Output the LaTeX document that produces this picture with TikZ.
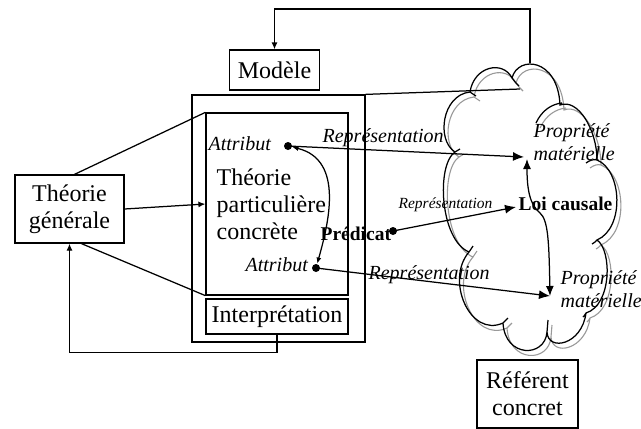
\documentclass[tikz,border=0pt]{standalone}
\usepackage{fontspec}
\setmainfont{Liberation Serif}
\usetikzlibrary{arrows.meta}
\begin{document}
\begin{tikzpicture}[x=1pt,y=-1pt, line width=1.25pt,
  box/.style={draw, rectangle, inner sep=0pt},
  bigtxt/.style={font=\fontsize{24}{27}\selectfont},
  ital/.style={font=\fontsize{20}{23}\selectfont\itshape, inner sep=0pt},
  smallital/.style={font=\fontsize{15.5}{18}\selectfont\itshape, inner sep=0pt},
  boldtxt/.style={font=\fontsize{19.5}{22}\selectfont\bfseries, inner sep=0pt},
  dot/.style={circle, fill, inner sep=0pt, minimum size=8pt},
  bigarrow/.style={-{Latex[length=11pt,width=9pt]}},
  smallarrow/.style={-{Latex[length=7pt,width=6pt]}},
  cloudpath/.style={insert path={
    (470,92) .. controls (474,66) and (503,60) .. (512,78)
    .. controls (518,55) and (558,58) .. (560,105)
    .. controls (578,98) and (597,130) .. (597,160)
    .. controls (622,170) and (625,228) .. (597,240)
    .. controls (612,250) and (612,305) .. (586,313)
    .. controls (582,345) and (548,352) .. (547,332)
    .. controls (545,358) and (505,358) .. (503,323)
    .. controls (470,338) and (445,280) .. (469,252)
    .. controls (440,240) and (436,165) .. (455,152)
    .. controls (436,140) and (442,95) .. (470,92) -- cycle
    (512,78) .. controls (514,81) and (516,83) .. (519,86)
    (536,123) .. controls (542,110) and (552,104) .. (562,103)
    (586,163) .. controls (590,160) and (594,159) .. (597,160)
    (597,240) .. controls (595,242) and (594,243) .. (592,244)
    (586,313) .. controls (585,315) and (584,316) .. (583,317)
    (547,332) -- (548,320)
    (503,323) -- (508,318)
    (469,252) -- (473,246)
    (455,152) -- (460,149)
    (470,92) -- (476,96)
  }}
]
\useasboundingbox (0,0) rectangle (641,429);

% cloud
\draw[line width=1.1pt, gray!80, shift={(4,5)}, cloudpath];
\draw[line width=1.25pt, cloudpath];
\coordinate (cloudtop) at (530,63);
\coordinate (cloudin) at (520,89);
\coordinate (p1tip) at (524,157);
\coordinate (p1up) at (527,159);
\coordinate (p2tip) at (550,296);
\coordinate (loitip) at (516,207);

% boxes
\node[box, minimum width=90pt, minimum height=40pt, bigtxt] (modele) at (274.5,70) {Modèle};
\node[box, minimum width=173pt, minimum height=247pt] (outer) at (278.5,218.5) {};
\node[box, minimum width=142pt, minimum height=182pt] (inner) at (277,204) {};
\node[box, minimum width=142pt, minimum height=35pt, bigtxt] (interp) at (277,316.5) {Interprétation};
\node[box, minimum width=109pt, minimum height=68pt, bigtxt, align=center] (theorie) at (69.5,209) {Théorie\\générale};
\node[box, minimum width=101pt, minimum height=68pt, bigtxt, align=center] (referent) at (527.5,394) {Référent\\concret};

% texts
\node[bigtxt, align=left, anchor=north west, inner sep=0pt] (tpc) at (216,168) {Théorie\\particulière\\concrète};
\node[ital, anchor=base west] (attr1) at (208,150) {Attribut};
\node[ital, anchor=base west] (attr2) at (245,271) {Attribut};
\node[boldtxt, anchor=base west] (pred) at (320,240) {Prédicat};
\node[boldtxt, anchor=base west] (loi) at (518,210) {Loi causale};
\node[ital, anchor=north west, align=left] (prop1) at (533,123) {Propriété\\matérielle};
\node[ital, anchor=north west, align=left] (prop2) at (560,270) {Propriété\\matérielle};
\node[ital, anchor=base west] (rep1) at (322,142) {Représentation};
\node[smallital, anchor=base west] (rep2) at (398,208) {Représentation};
\node[ital, anchor=base west] (rep3) at (368,279) {Représentation};

\node[dot] (d1) at (288,146) {};
\node[dot] (d2) at (316,268) {};
\node[dot] (d3) at (393,231) {};

% connectors
\draw[smallarrow] (cloudtop) -- ++(0,-54) -| (modele.north);
\draw (outer.north east) -- (cloudin);
\draw[smallarrow] (interp.south) -- ++(0,18) -| (theorie.south);
\draw[smallarrow] (theorie.east) -- (inner.west);
\draw ([xshift=5pt]theorie.north) -- (inner.north west);
\draw ([xshift=12pt]theorie.south) -- (inner.south west);

\draw[{Latex[length=6pt,width=5pt]}-{Latex[length=6pt,width=5pt]}] (d1) .. controls (345,160) and (328,225) .. (d2);
\draw[bigarrow] (d1.center) -- (p1tip);
\draw[bigarrow] (d3.center) -- (loitip);
\draw[bigarrow] (d2.center) -- (p2tip);
\draw[{Latex[length=10pt,width=8pt]}-{Latex[length=10pt,width=8pt]}] (p1up) .. controls (527,190) and (530,205) .. (540,213) .. controls (548,220) and (549,240) .. (p2tip);
\end{tikzpicture}
\end{document}
